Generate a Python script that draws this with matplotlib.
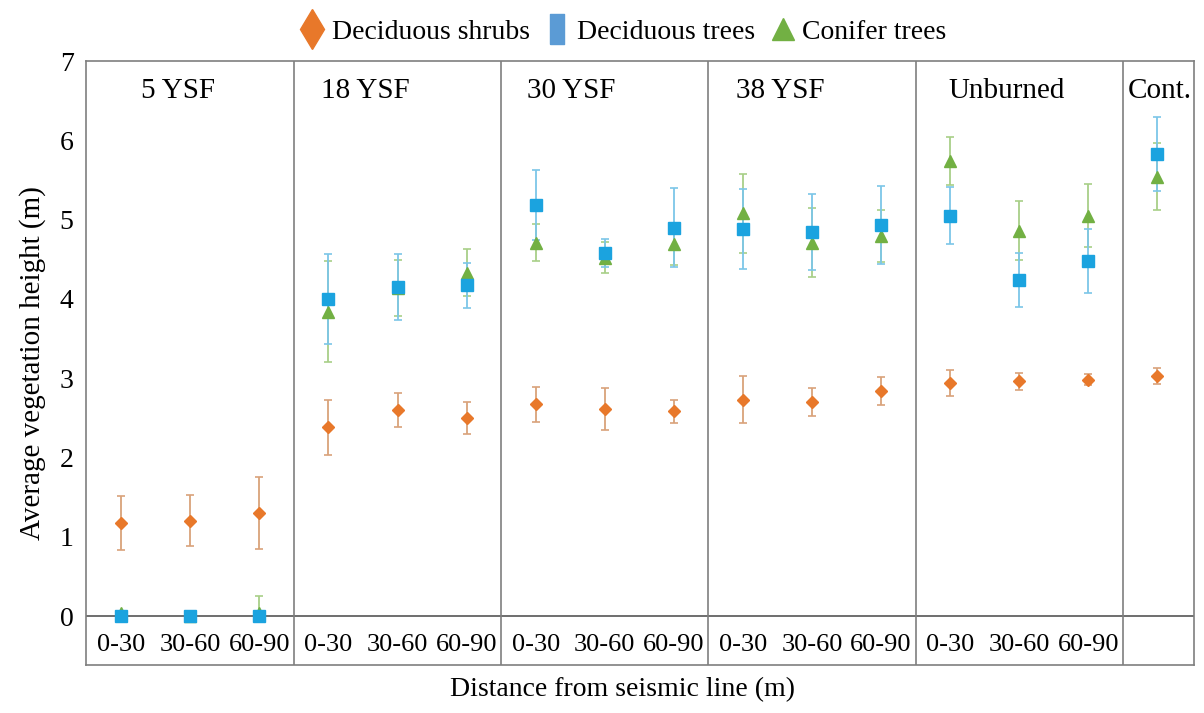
import matplotlib
matplotlib.use("Agg")
import matplotlib.pyplot as plt
from matplotlib.lines import Line2D
import numpy as np

plt.rcParams['font.family'] = ['Liberation Serif', 'DejaVu Serif']

# ---- data ----
groups = ['5 YSF', '18 YSF', '30 YSF', '38 YSF', 'Unburned', 'Cont.']
distances = ['0-30', '30-60', '60-90']
group_sizes = [3, 3, 3, 3, 3, 1]

shrubs = [1.17, 1.20, 1.30, 2.38, 2.60, 2.50, 2.67, 2.61, 2.58,
          2.73, 2.70, 2.84, 2.94, 2.96, 2.98, 3.03]
shrubs_err = [0.34, 0.32, 0.45, 0.35, 0.21, 0.20, 0.22, 0.27, 0.14,
              0.30, 0.18, 0.18, 0.16, 0.11, 0.07, 0.10]

dec_trees = [0.00, 0.00, 0.00, 4.00, 4.15, 4.17, 5.18, 4.58, 4.90,
             4.88, 4.84, 4.93, 5.05, 4.24, 4.48, 5.83]
dec_trees_err = [0.00, 0.00, 0.00, 0.57, 0.42, 0.28, 0.44, 0.18, 0.50,
                 0.50, 0.48, 0.49, 0.36, 0.34, 0.40, 0.47]

conifers = [0.04, 0.00, 0.04, 3.84, 4.14, 4.33, 4.71, 4.52, 4.69,
            5.08, 4.71, 4.79, 5.74, 4.86, 5.05, 5.54]
conifers_err = [0.00, 0.00, 0.21, 0.64, 0.35, 0.30, 0.23, 0.20, 0.26,
                0.50, 0.43, 0.33, 0.30, 0.37, 0.40, 0.42]

# ---- colours ----
c_shrub = '#E8782A'
c_tree = '#1BA3DF'
c_con = '#72B043'
c_shrub_e = '#D9A27A'
c_tree_e = '#7CC6E8'
c_con_e = '#A8CF88'
c_tree_leg = '#5B9BD5'

fig = plt.figure(figsize=(12.04, 7.13), dpi=100)
ax = fig.add_axes([86 / 1204, 1 - 665 / 713, (1194 - 86) / 1204, (665 - 61) / 713])

x = np.arange(len(shrubs))
ax.set_xlim(-0.51, 15.53)
ax.set_ylim(-0.618, 7)


def yerr_clip(vals, errs):
    v = np.asarray(vals)
    e = np.asarray(errs)
    return np.vstack([np.minimum(e, v), e])


ax.errorbar(x, shrubs, yerr=yerr_clip(shrubs, shrubs_err), fmt='none',
            ecolor=c_shrub_e, elinewidth=1.3, capsize=3, capthick=1.2, zorder=2)
ax.plot(x, shrubs, linestyle='none', marker='D', markersize=6.5,
        color=c_shrub, zorder=3)
ax.errorbar(x, conifers, yerr=yerr_clip(conifers, conifers_err), fmt='none',
            ecolor=c_con_e, elinewidth=1.3, capsize=3, capthick=1.2, zorder=2)
ax.errorbar(x, dec_trees, yerr=yerr_clip(dec_trees, dec_trees_err), fmt='none',
            ecolor=c_tree_e, elinewidth=1.3, capsize=3, capthick=1.2, zorder=2)
ax.plot(x, conifers, linestyle='none', marker='^', markersize=8,
        color=c_con, zorder=4)
ax.plot(x, dec_trees, linestyle='none', marker='s', markersize=8,
        color=c_tree, zorder=5)

# frame
for s in ax.spines.values():
    s.set_color('#7f7f7f')
    s.set_linewidth(1.2)
ax.axhline(0, color='#555555', lw=1.2, zorder=1)

# panel dividers, titles, category labels
title_off = [0.82, 0.53, 0.51, 0.54, 0.82, 0.04]
start = 0
for gi, (g, n) in enumerate(zip(groups, group_sizes)):
    if gi > 0:
        ax.axvline(start - 0.5, color='#7f7f7f', lw=1.2, zorder=1)
    ax.text(start + title_off[gi], 6.62, g, ha='center', va='center',
            fontsize=21)
    if n > 1:
        for k in range(n):
            ax.text(start + k, -0.37, distances[k], ha='center',
                    va='center', fontsize=19)
    start += n

ax.set_xticks([])
ax.set_yticks(range(0, 8))
ax.tick_params(axis='y', length=0, labelsize=20, pad=9)
ax.set_ylabel('Average vegetation height (m)', fontsize=21, labelpad=10)

fig.text(622 / 1204, 1 - 690 / 713, 'Distance from seismic line (m)',
         ha='center', va='center', fontsize=20)

rect = [(-0.45, -1), (0.45, -1), (0.45, 1), (-0.45, 1), (-0.45, -1)]
handles = [
    Line2D([], [], linestyle='none', marker='d', markersize=20,
           color=c_shrub),
    Line2D([], [], linestyle='none', marker=rect, markersize=22,
           color=c_tree_leg),
    Line2D([], [], linestyle='none', marker='^', markersize=16,
           color=c_con),
]
fig.legend(handles, ['Deciduous shrubs', 'Deciduous trees', 'Conifer trees'],
           loc='center', bbox_to_anchor=(0.518, 1 - 32 / 713), ncol=3,
           frameon=False, fontsize=20, handlelength=0.8, handletextpad=0.3,
           columnspacing=0.6)

fig.savefig('out.png', dpi=100)
